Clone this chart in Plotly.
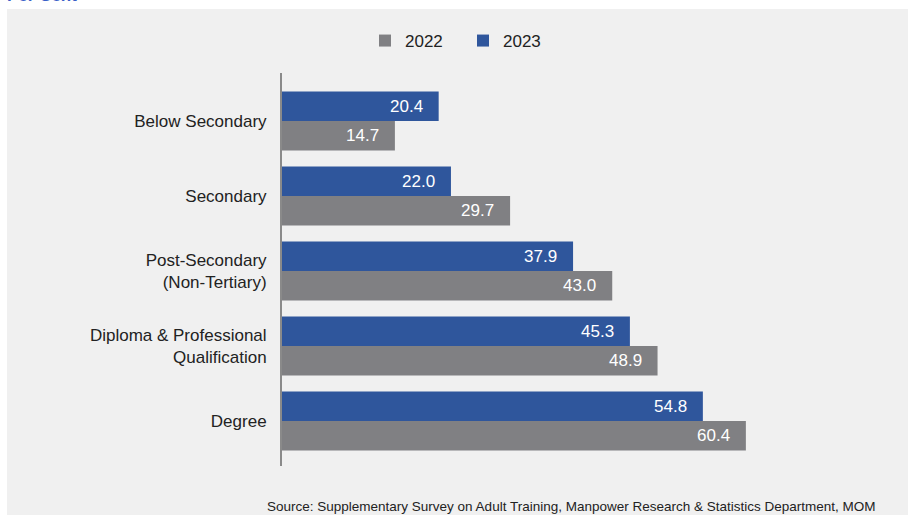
import plotly.graph_objects as go

categories = ["Below Secondary", "Secondary", "Post-Secondary<br>(Non-Tertiary)",
              "Diploma & Professional<br>Qualification", "Degree"]
values_2022 = [14.7, 29.7, 43.0, 48.9, 60.4]
values_2023 = [20.4, 22.0, 37.9, 45.3, 54.8]
series_names = ["2022", "2023"]

W, H = 908, 522
L, R, T, B = 282, 10, 73, 56
pw, ph = W - L - R, H - T - B

def px_x(p):
    return (p - L) / pw

def px_y(p):
    return (H - B - p) / ph

GRAY = "#808083"
BLUE = "#2F569C"
FONT = "Liberation Sans, Arial, sans-serif"
FS = 17

pos = list(range(len(categories)))
bw = 0.393

fig = go.Figure()
fig.add_trace(go.Bar(
    y=pos, x=values_2022, orientation="h", name=series_names[0],
    marker=dict(color=GRAY, line=dict(width=0)), width=bw, offset=0.0,
    hoverinfo="x+name"))
fig.add_trace(go.Bar(
    y=pos, x=values_2023, orientation="h", name=series_names[1],
    marker=dict(color=BLUE, line=dict(width=0)), width=bw, offset=-bw,
    hoverinfo="x+name"))

annotations = []
for i, v in enumerate(values_2022):
    annotations.append(dict(x=v, y=i + bw / 2, xref="x", yref="y", text=f"{v:.1f}",
                            showarrow=False, xanchor="right", yanchor="middle",
                            xshift=-14, font=dict(color="white", size=FS, family=FONT)))
for i, v in enumerate(values_2023):
    annotations.append(dict(x=v, y=i - bw / 2, xref="x", yref="y", text=f"{v:.1f}",
                            showarrow=False, xanchor="right", yanchor="middle",
                            xshift=-14, font=dict(color="white", size=FS, family=FONT)))

annotations.append(dict(
    x=px_x(878), y=px_y(506), xref="paper", yref="paper",
    text="Source: Supplementary Survey on Adult Training, Manpower Research & Statistics Department, MOM",
    showarrow=False, xanchor="right", yanchor="middle",
    font=dict(color="#222222", size=13.5, family=FONT)))
annotations.append(dict(
    x=px_x(5), y=px_y(7), xref="paper", yref="paper", text="<b>Per Cent</b>",
    showarrow=False, xanchor="left", yanchor="bottom",
    font=dict(color="#3A5FC8", size=17, family=FONT)))

fig.update_layout(
    width=W, height=H,
    margin=dict(l=L, r=R, t=T, b=B),
    paper_bgcolor="white",
    plot_bgcolor="rgba(0,0,0,0)",
    barmode="overlay",
    showlegend=True,
    legend=dict(orientation="h", x=365 / W, xref="container", xanchor="left",
                y=1 - 41 / H, yref="container", yanchor="middle",
                font=dict(size=FS, family=FONT, color="#222222"),
                traceorder="normal", itemwidth=30, entrywidth=53,
                bgcolor="rgba(0,0,0,0)"),
    xaxis=dict(range=[0, pw / 7.68], visible=False, fixedrange=True),
    yaxis=dict(range=[4.6, -0.64], tickvals=pos, ticktext=categories,
               showline=True, linecolor="#8a8a8a", linewidth=2,
               showgrid=False, zeroline=False, ticks="",
               ticklabelstandoff=10,
               tickfont=dict(size=FS, family=FONT, color="#222222")),
    shapes=[dict(type="rect", xref="paper", yref="paper", layer="below",
                 x0=px_x(7), x1=px_x(W + 20), y0=px_y(515), y1=px_y(9),
                 fillcolor="#f0f0f0", line=dict(width=0))],
    annotations=annotations,
)

fig.write_html("out.html")
